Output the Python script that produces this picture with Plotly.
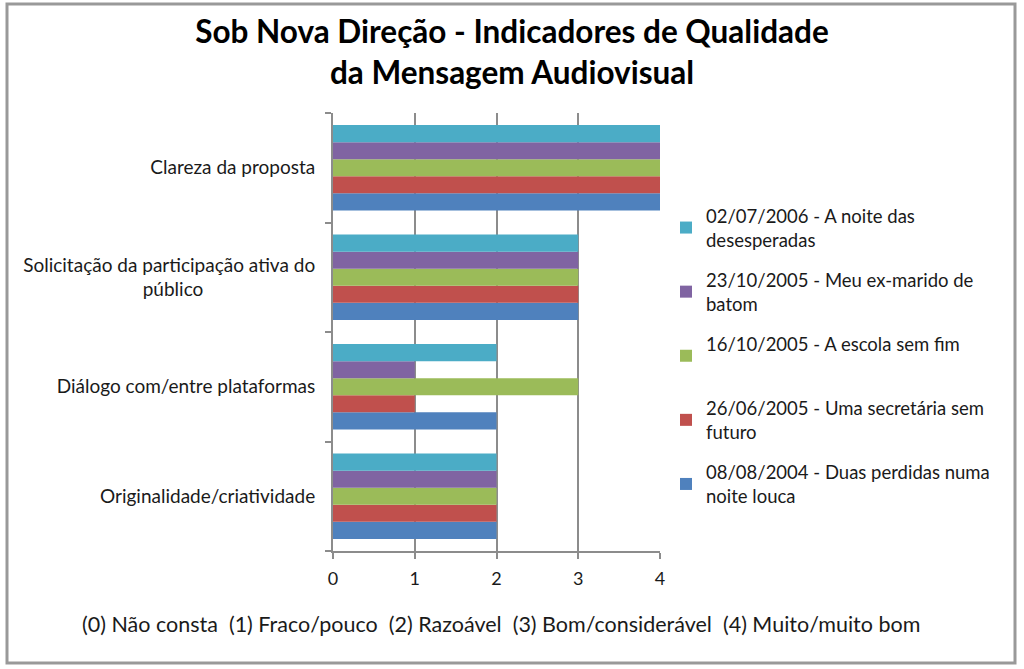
import plotly.graph_objects as go

# categories, top to bottom as shown in the chart
categories = ['Clareza da proposta',
              'Solicitação da participação ativa do<br>público' + '&nbsp;' * 23,
              'Diálogo com/entre plataformas',
              'Originalidade/criatividade']

# series, in the order they are stacked from the bottom bar upwards
series_names = ['08/08/2004 - Duas perdidas numa<br>noite louca',
                '26/06/2005 - Uma secretária sem<br>futuro',
                '16/10/2005 - A escola sem fim<br> ',
                '23/10/2005 - Meu ex-marido de<br>batom',
                '02/07/2006 - A noite das<br>desesperadas']
series_values = [[4, 3, 2, 2],
                 [4, 3, 1, 2],
                 [4, 3, 3, 2],
                 [4, 3, 1, 2],
                 [4, 3, 2, 2]]
series_colors = ['#4F81BD', '#C0504D', '#9BBB59', '#8064A2', '#4BACC6']

xticks = [0, 1, 2, 3, 4]

title = 'Sob Nova Direção - Indicadores de Qualidade<br>da Mensagem Audiovisual'
footnote = ('(0) Não consta&nbsp; (1) Fraco/pouco&nbsp; (2) Razoável&nbsp; '
            '(3) Bom/considerável&nbsp; (4) Muito/muito bom')

W, H = 1024, 669
ml, mr, mt, mb = 333, 364, 113, 118
pw, ph = W - ml - mr, H - mt - mb

def px(x):
  return (x - ml) / pw

def py(y):
  return (H - mb - y) / ph

fig = go.Figure()
for i, (name, vals, col) in enumerate(zip(series_names, series_values, series_colors)):
  fig.add_trace(go.Bar(name=name, y=categories, x=vals, orientation='h',
                       marker={'color': col, 'line': {'width': 0}},
                       legendgroup=str(i), legendrank=10 - i))

fig.update_layout(
  width=W, height=H,
  margin={'l': ml, 'r': mr, 't': mt, 'b': mb},
  font={'family': 'Lato, Open Sans, sans-serif', 'size': 19, 'color': '#1a1a1a'},
  paper_bgcolor='white', plot_bgcolor='white',
  barmode='group', bargap=0.22, bargroupgap=0,
  title={'text': '<b>' + title + '</b>', 'font': {'size': 31.5, 'color': '#000'},
         'x': 0.5, 'xanchor': 'center', 'xref': 'container',
         'y': 0.936, 'yanchor': 'top', 'yref': 'container'},
  legend={'x': px(666), 'xanchor': 'left', 'y': py(197), 'yanchor': 'top',
          'tracegroupgap': 13, 'font': {'size': 18.5},
          'bgcolor': 'rgba(0,0,0,0)'},
  showlegend=True,
)
fig.update_xaxes(range=[0, 4], tickvals=xticks, showgrid=True,
                 gridcolor='#8c8c8c', gridwidth=2, zeroline=False,
                 showline=True, linecolor='#8c8c8c', linewidth=2,
                 ticks='outside', ticklen=6, tickcolor='#8c8c8c', tickwidth=2,
                 ticklabelstandoff=4, tickfont={'size': 18}, fixedrange=True)
fig.update_yaxes(categoryorder='array', categoryarray=categories[::-1],
                 showline=True, linecolor='#8c8c8c', linewidth=2,
                 ticks='outside', ticklen=6, tickcolor='#8c8c8c', tickwidth=2,
                 tickson='boundaries', showgrid=False, ticklabelstandoff=12,
                 fixedrange=True)

# outer chart border
fig.add_shape(type='rect', xref='paper', yref='paper',
              x0=px(7), x1=px(1015), y0=py(663), y1=py(4),
              line={'color': '#999999', 'width': 3}, layer='below')

fig.add_annotation(text=footnote, xref='paper', yref='paper',
                   x=px(501), y=py(624), xanchor='center', yanchor='middle',
                   showarrow=False, font={'size': 21.5, 'color': '#1a1a1a'})

fig.write_html('out.html', config={'displayModeBar': False},
               post_script="document.body.style.margin='0';")
